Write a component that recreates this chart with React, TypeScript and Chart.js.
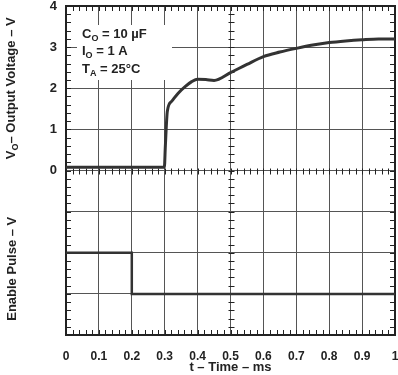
import React, { useEffect, useRef } from 'react';
import { Chart, registerables } from 'chart.js';

Chart.register(...registerables);

// Output voltage trace (time in ms, volts)
const TIME_VO = [0, 0.1, 0.2, 0.299, 0.302, 0.308, 0.321, 0.341, 0.362, 0.382, 0.4, 0.425, 0.45, 0.5, 0.55, 0.6, 0.65, 0.7, 0.75, 0.8, 0.85, 0.9, 0.95, 1.0];
const VO_VOLTS = [0.08, 0.08, 0.08, 0.08, 0.6, 1.44, 1.68, 1.88, 2.04, 2.16, 2.22, 2.21, 2.19, 2.38, 2.58, 2.77, 2.88, 2.97, 3.05, 3.11, 3.15, 3.18, 3.2, 3.2];

// Enable pulse trace (time in ms, level in divisions of the lower panel)
const TIME_EN = [0, 0.2, 0.2, 1.0];
const EN_LEVEL = [2, 2, 1, 1];

const X_TICK_LABELS = ['0', '0.1', '0.2', '0.3', '0.4', '0.5', '0.6', '0.7', '0.8', '0.9', '1'];
const Y_TICK_LABELS = ['0', '1', '2', '3', '4'];

const X_TITLE = 't – Time – ms';
const VO_TITLE = ['V', 'O', '– Output Voltage – V'];
const EN_TITLE = 'Enable Pulse – V';
const CONDITIONS = [
  ['C', 'O', ' = 10 µF'],
  ['I', 'O', ' = 1 A'],
  ['T', 'A', ' = 25°C'],
];

const FONT = '"Liberation Sans", Arial, sans-serif';
const INK = '#222';
const GRID = '#555';

function drawSubText(ctx: CanvasRenderingContext2D, parts: string[], x: number, y: number, size: number, align: 'left' | 'center') {
  const main = `bold ${size}px ${FONT}`;
  const sub = `bold ${Math.round(size * 0.72)}px ${FONT}`;
  ctx.font = main;
  const w0 = ctx.measureText(parts[0]).width;
  const w2 = ctx.measureText(parts[2]).width;
  ctx.font = sub;
  const w1 = ctx.measureText(parts[1]).width;
  const total = w0 + w1 + w2;
  let cx = align === 'center' ? x - total / 2 : x;
  ctx.textAlign = 'left';
  ctx.textBaseline = 'alphabetic';
  ctx.font = main;
  ctx.fillText(parts[0], cx, y);
  cx += w0;
  ctx.font = sub;
  ctx.fillText(parts[1], cx, y + 3);
  cx += w1;
  ctx.font = main;
  ctx.fillText(parts[2], cx, y);
}

const decorPlugin = {
  id: 'decor',
  beforeDatasetsDraw(chart: any) {
    const ctx = chart.ctx as CanvasRenderingContext2D;
    const xs = chart.scales.x;
    const ys = chart.scales.y;
    const { left, right, top, bottom } = chart.chartArea;
    ctx.save();
    // annotation box (covers grid)
    ctx.fillStyle = '#fff';
    ctx.fillRect(left + 11, top + 19, 95, 55);

    ctx.strokeStyle = INK;
    ctx.lineWidth = 1;
    ctx.beginPath();
    const y0 = Math.round(ys.getPixelForValue(0)) + 0.5;
    const xMid = Math.round(xs.getPixelForValue(0.5)) + 0.5;
    for (let i = 0; i <= 50; i++) {
      const px = Math.round(xs.getPixelForValue(i * 0.02)) + 0.5;
      ctx.moveTo(px, top); ctx.lineTo(px, top + 5);
      ctx.moveTo(px, bottom); ctx.lineTo(px, bottom - 5);
      ctx.moveTo(px, y0 - 3); ctx.lineTo(px, y0 + 3);
    }
    for (let i = 0; i <= 40; i++) {
      const py = Math.round(ys.getPixelForValue(-4 + i * 0.2)) + 0.5;
      ctx.moveTo(left, py); ctx.lineTo(left + 5, py);
      ctx.moveTo(right, py); ctx.lineTo(right - 5, py);
      ctx.moveTo(xMid - 3, py); ctx.lineTo(xMid + 3, py);
    }
    ctx.stroke();

    // frame
    ctx.lineWidth = 2;
    ctx.strokeRect(left, top, right - left, bottom - top);
    ctx.restore();
  },
  afterDraw(chart: any) {
    const ctx = chart.ctx as CanvasRenderingContext2D;
    const ys = chart.scales.y;
    const { left, top } = chart.chartArea;
    ctx.save();
    ctx.fillStyle = INK;
    // conditions text
    CONDITIONS.forEach((parts, i) => {
      drawSubText(ctx, parts, left + 16, top + 31.5 + i * 17.5, 13, 'left');
    });
    // y titles (rotated)
    const voCenter = (ys.getPixelForValue(4) + ys.getPixelForValue(0)) / 2;
    ctx.save();
    ctx.translate(15, voCenter);
    ctx.rotate(-Math.PI / 2);
    drawSubText(ctx, VO_TITLE, 0, 0, 13, 'center');
    ctx.restore();

    const enCenter = (ys.getPixelForValue(0) + ys.getPixelForValue(-4)) / 2 + 16;
    ctx.save();
    ctx.translate(16, enCenter);
    ctx.rotate(-Math.PI / 2);
    ctx.font = `bold 13px ${FONT}`;
    ctx.textAlign = 'center';
    ctx.textBaseline = 'alphabetic';
    ctx.fillText(EN_TITLE, 0, 0);
    ctx.restore();
    ctx.restore();
  },
};

export default function App() {
  const ref = useRef<HTMLCanvasElement>(null);
  useEffect(() => {
    if (!ref.current) return;
    const chart = new Chart(ref.current, {
      type: 'line',
      data: {
        datasets: [
          {
            data: TIME_VO.map((t, i) => ({ x: t, y: VO_VOLTS[i] })),
            yAxisID: 'y',
            borderColor: '#333',
            borderWidth: 3,
            pointRadius: 0,
            cubicInterpolationMode: 'monotone',
            fill: false,
          },
          {
            data: TIME_EN.map((t, i) => ({ x: t, y: EN_LEVEL[i] })),
            yAxisID: 'yEn',
            borderColor: '#333',
            borderWidth: 2.5,
            pointRadius: 0,
            tension: 0,
            fill: false,
          },
        ],
      },
      options: {
        animation: false,
        responsive: false,
        maintainAspectRatio: false,
        layout: { autoPadding: false, padding: { top: 6, right: 3, left: 0, bottom: 0 } },
        plugins: { legend: { display: false }, tooltip: { enabled: false }, title: { display: false } },
        scales: {
          x: {
            type: 'linear',
            min: 0,
            max: 1,
            afterFit: (s: any) => { s.height = 40; s.paddingLeft = 0; s.paddingRight = 0; },
            ticks: {
              stepSize: 0.1,
              autoSkip: false,
              maxRotation: 0,
              padding: 14,
              color: INK,
              font: { family: FONT, size: 12, weight: 'bold' },
              callback: (_v: any, i: number) => X_TICK_LABELS[i],
            },
            grid: { color: GRID, lineWidth: 1, drawTicks: false },
            border: { display: false },
            title: { display: true, text: X_TITLE, color: INK, font: { family: FONT, size: 13, weight: 'bold' }, padding: { top: 0, bottom: 0 } },
          },
          y: {
            type: 'linear',
            min: -4,
            max: 4,
            afterFit: (s: any) => { s.width = 66; s.paddingTop = 0; s.paddingBottom = 0; },
            ticks: {
              stepSize: 1,
              padding: 9,
              color: INK,
              font: { family: FONT, size: 13, weight: 'bold' },
              callback: (v: any) => (v >= 0 ? Y_TICK_LABELS[Math.round(v)] : ''),
            },
            grid: { color: GRID, lineWidth: 1, drawTicks: false },
            border: { display: false },
          },
          yEn: {
            type: 'linear',
            min: 0,
            max: 8,
            display: false,
            afterFit: (s: any) => { s.paddingTop = 0; s.paddingBottom = 0; },
          },
        },
      },
      plugins: [decorPlugin],
    } as any);
    return () => chart.destroy();
  }, []);
  return (
    <div style={{ position: 'fixed', left: 0, top: 0, width: 398, height: 375, background: '#fff' }}>
      <canvas ref={ref} width={398} height={375} style={{ display: 'block' }} />
    </div>
  );
}
